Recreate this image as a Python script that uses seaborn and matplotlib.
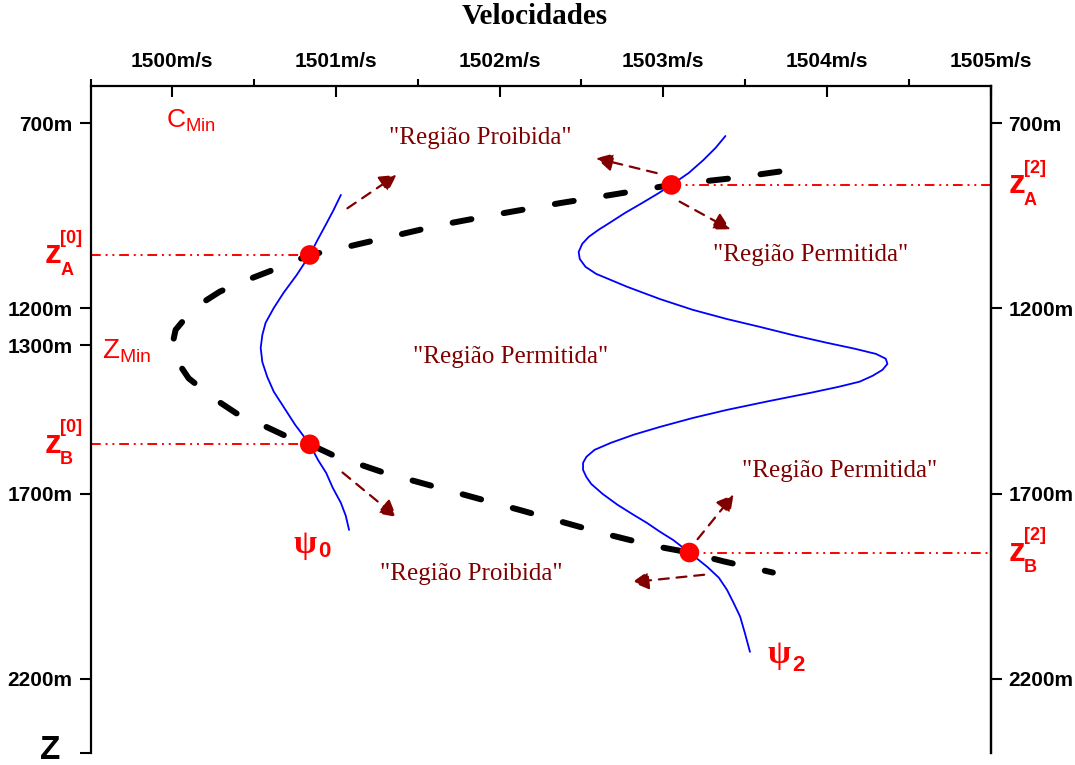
import matplotlib
matplotlib.use("Agg")
import matplotlib.pyplot as plt
import matplotlib.transforms as mtransforms
import seaborn as sns

# Mode psi_0: velocity (m/s) against depth (m)
psi0_vel = [1501.03, 1500.985, 1500.937, 1500.888, 1500.84, 1500.76, 1500.68, 1500.62,
            1500.57, 1500.55, 1500.54, 1500.55, 1500.58, 1500.62, 1500.68, 1500.75,
            1500.84, 1500.89, 1500.94, 1500.98, 1501.03, 1501.06, 1501.08]
psi0_depth = [894, 935, 975, 1015, 1056, 1110, 1158, 1199,
              1239, 1272, 1307, 1345, 1385, 1425, 1466, 1514,
              1567, 1609, 1644, 1684, 1725, 1760, 1798]

# Mode psi_2: velocity (m/s) against depth (m)
psi2_vel = [1503.38, 1503.32, 1503.245, 1503.155, 1503.05, 1502.965, 1502.87, 1502.765,
            1502.67, 1502.605, 1502.545, 1502.505, 1502.483, 1502.49, 1502.525, 1502.59,
            1502.78, 1502.98, 1503.18, 1503.39, 1503.59, 1503.79, 1504.00, 1504.17,
            1504.30, 1504.36, 1504.37, 1504.34, 1504.28, 1504.20, 1504.07, 1503.90,
            1503.65, 1503.39, 1503.18, 1502.98, 1502.82, 1502.68, 1502.58, 1502.53,
            1502.51, 1502.51, 1502.53, 1502.56, 1502.63, 1502.72, 1502.81, 1502.90,
            1502.98, 1503.06, 1503.16, 1503.27, 1503.34, 1503.39, 1503.43, 1503.47,
            1503.50, 1503.53]
psi2_depth = [735, 767, 800, 835, 867, 891, 916, 943,
              970, 988, 1007, 1026, 1048, 1067, 1088, 1107,
              1142, 1175, 1204, 1229, 1250, 1272, 1293, 1309,
              1323, 1336, 1350, 1366, 1382, 1398, 1412, 1428,
              1450, 1474, 1496, 1520, 1541, 1563, 1582, 1601,
              1617, 1636, 1655, 1674, 1701, 1730, 1755, 1779,
              1803, 1825, 1859, 1898, 1927, 1960, 1995, 2032,
              2078, 2127]

# Sound-speed profile c(z)
c_vel = [1503.71, 1503.42, 1503.05, 1502.68, 1502.37, 1502.00, 1501.64, 1501.33,
         1501.03, 1500.84, 1500.60, 1500.43, 1500.29, 1500.13, 1500.02, 1500.00,
         1500.01, 1500.10, 1500.26, 1500.39, 1500.56, 1500.70, 1500.84, 1500.99,
         1501.29, 1501.70, 1502.13, 1502.37, 1502.63, 1502.94, 1503.16, 1503.37,
         1503.67]
c_depth = [831, 849, 867, 894, 916, 945, 975, 1007,
           1038, 1056, 1099, 1128, 1155, 1200, 1258, 1299,
           1330, 1389, 1445, 1483, 1517, 1546, 1567, 1598,
           1643, 1693, 1745, 1775, 1807, 1841, 1859, 1883,
           1913]

# Turning points where each mode meets c(z)
turn_vel = [1500.84, 1500.84, 1503.05, 1503.16]
turn_depth = [1056, 1567, 867, 1859]
turn_side = ["left", "left", "right", "right"]
turn_sub = ["A", "B", "A", "B"]
turn_sup = ["[0]", "[0]", "[2]", "[2]"]

# Direction arrows (tail -> head)
arrow_tail_vel = [1501.07, 1501.04, 1502.96, 1503.10, 1503.21, 1503.25]
arrow_tail_depth = [930, 1643, 835, 912, 1823, 1919]
arrow_head_vel = [1501.37, 1501.37, 1502.59, 1503.41, 1503.43, 1502.81]
arrow_head_depth = [840, 1763, 795, 987, 1703, 1939]

# Region captions
region_text = ['"Região Proibida"', '"Região Permitida"', '"Região Permitida"',
               '"Região Permitida"', '"Região Proibida"']
region_vel = [1501.88, 1503.90, 1502.07, 1504.08, 1501.83]
region_depth = [740, 1056, 1331, 1639, 1916]

# Axes ticks
vel_ticks = [1500, 1501, 1502, 1503, 1504, 1505]
vel_labels = ["1500m/s", "1501m/s", "1502m/s", "1503m/s", "1504m/s", "1505m/s"]
vel_minor = [1499.5, 1500.5, 1501.5, 1502.5, 1503.5, 1504.5]
depth_ticks_left = [700, 1200, 1300, 1700, 2200, 2400]
depth_labels_left = ["700m", "1200m", "1300m", "1700m", "2200m", ""]
depth_ticks_right = [700, 1200, 1700, 2200]
depth_labels_right = ["700m", "1200m", "1700m", "2200m"]
vel_lim = (1499.5, 1505)
depth_lim = (2400, 600)

sns.set_style("white")
plt.rcParams["font.family"] = ["Liberation Sans", "DejaVu Sans"]
plt.rcParams.update({"text.color": "black", "axes.labelcolor": "black",
                     "xtick.color": "black", "ytick.color": "black",
                     "axes.edgecolor": "black"})

RED = "#ff0000"
MAROON = "#800000"
BLUE = "#0000ff"
SERIF = ["Liberation Serif", "DejaVu Serif"]

fig = plt.figure(figsize=(10.75, 7.65), dpi=100)
ax = fig.add_axes([0.0842, 0.0157, 0.8372, 0.8719])

# Curves
sns.lineplot(x=psi0_vel, y=psi0_depth, sort=False, estimator=None, color=BLUE,
             lw=1.3, ax=ax, zorder=2)
sns.lineplot(x=psi2_vel, y=psi2_depth, sort=False, estimator=None, color=BLUE,
             lw=1.3, ax=ax, zorder=2)
sns.lineplot(x=c_vel, y=c_depth, sort=False, estimator=None, color="black",
             lw=4.3, linestyle=(0, (3.2, 5.5)), dash_capstyle="round", ax=ax, zorder=3)

# Horizontal guides from turning points to the side axis
for v, d, side in zip(turn_vel, turn_depth, turn_side):
    xs = [vel_lim[0], v] if side == "left" else [v, vel_lim[1]]
    sns.lineplot(x=xs, y=[d, d], sort=False, estimator=None, color=RED, lw=1.4,
                 linestyle=(0, (5, 2.5, 1, 2.5, 1, 2.5)), ax=ax, zorder=2)

sns.scatterplot(x=turn_vel, y=turn_depth, s=200, color=RED, edgecolor="none",
                ax=ax, zorder=6)

# Arrows
for tv, td, hv, hd in zip(arrow_tail_vel, arrow_tail_depth, arrow_head_vel, arrow_head_depth):
    ax.annotate("", xy=(hv, hd), xytext=(tv, td),
                arrowprops=dict(arrowstyle="-|>,head_length=0.4,head_width=0.22",
                                color=MAROON, lw=1.6, linestyle=(0, (4.5, 3.5)),
                                mutation_scale=25, shrinkA=0, shrinkB=0),
                zorder=4)

# Region captions
for t, v, d in zip(region_text, region_vel, region_depth):
    ax.text(v, d, t, color=MAROON, fontsize=18, family=SERIF, ha="center", va="center")

# Axis limits and ticks
ax.set_xlim(*vel_lim)
ax.set_ylim(*depth_lim)
ax.xaxis.set_ticks_position("top")
ax.set_xticks(vel_ticks)
ax.set_xticklabels(vel_labels, fontsize=15, fontweight="bold")
ax.set_xticks(vel_minor, minor=True)
ax.tick_params(axis="x", which="major", direction="in", length=8, width=1.5, pad=11,
               top=True, bottom=False)
ax.tick_params(axis="x", which="minor", direction="out", length=5, width=1.5,
               top=True, bottom=False)
ax.set_yticks(depth_ticks_left)
ax.set_yticklabels(depth_labels_left, fontsize=15, fontweight="bold")
ax.tick_params(axis="y", which="major", direction="out", length=8, width=1.5, pad=5,
               left=True, right=False)
ax.set_xlabel("")
ax.set_ylabel("")
for s in ["top", "left", "right"]:
    ax.spines[s].set_visible(True)
    ax.spines[s].set_linewidth(1.6)
    ax.spines[s].set_color("black")
ax.spines["bottom"].set_visible(False)

ax2 = ax.twinx()
ax2.set_ylim(*depth_lim)
ax2.set_yticks(depth_ticks_right)
ax2.set_yticklabels(depth_labels_right, fontsize=15, fontweight="bold")
ax2.tick_params(axis="y", direction="out", length=8, width=1.5, pad=5,
                right=True, left=False)
for s in ["top", "left", "bottom"]:
    ax2.spines[s].set_visible(False)
ax2.spines["right"].set_linewidth(1.6)
ax2.spines["right"].set_color("black")

blend = mtransforms.blended_transform_factory(ax.transAxes, ax.transData)

# Depth axis name at the bottom
ax.annotate("Z", xy=(0, depth_lim[0]), xycoords=blend, xytext=(-29, 2),
            textcoords="offset points", ha="center", va="center",
            fontsize=24, fontweight="bold", color="black", annotation_clip=False)

# Turning-point labels z_A / z_B
for d, side, sub, sup in zip(turn_depth, turn_side, turn_sub, turn_sup):
    xf = -0.042 if side == "left" else 1.029
    kw = dict(xycoords=blend, textcoords="offset points", color=RED,
              fontweight="bold", annotation_clip=False)
    ax.annotate("z", xy=(xf, d), xytext=(0, 0), ha="center", va="center",
                fontsize=24, **kw)
    ax.annotate(sub, xy=(xf, d), xytext=(10, -11), ha="center", va="center",
                fontsize=13, **kw)
    ax.annotate(sup, xy=(xf, d), xytext=(13, 12), ha="center", va="center",
                fontsize=13, **kw)

# Minimum of the profile
ax.text(1499.96, 694, r"$\mathregular{C_{Min}}$", color=RED, fontsize=19,
        ha="left", va="center")
ax.text(1499.57, 1317, r"$\mathregular{Z_{Min}}$", color=RED, fontsize=20,
        ha="left", va="center")

# Mode labels
ax.text(1500.81, 1838, "ψ", color=RED, fontsize=24, fontweight="bold",
        family=SERIF, ha="center", va="center")
ax.annotate("0", xy=(1500.81, 1838), xytext=(14, -5), textcoords="offset points",
            color=RED, fontsize=16, fontweight="bold", ha="center", va="center")
ax.text(1503.71, 2135, "ψ", color=RED, fontsize=24, fontweight="bold",
        family=SERIF, ha="center", va="center")
ax.annotate("2", xy=(1503.71, 2135), xytext=(14, -8), textcoords="offset points",
            color=RED, fontsize=16, fontweight="bold", ha="center", va="center")

fig.text(535 / 1075, 1 - 17 / 765, "Velocidades", fontsize=21, fontweight="bold",
         family=SERIF, ha="center", va="center")

fig.savefig("out.png", dpi=100)
